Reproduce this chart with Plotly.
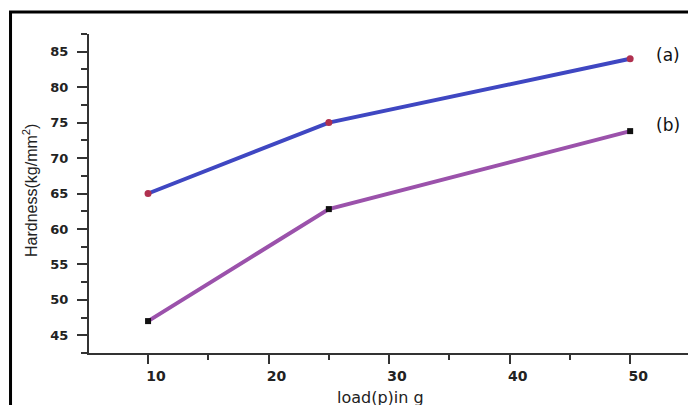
import plotly.graph_objects as go

load = [10, 25, 50]
hardness_a = [65.0, 75.0, 84.0]
hardness_b = [47.0, 62.8, 73.8]
series_labels = ["(a)", "(b)"]
x_ticks = [10, 20, 30, 40, 50]
y_ticks = [45, 50, 55, 60, 65, 70, 75, 80, 85]

fig = go.Figure()
fig.add_trace(go.Scatter(x=load, y=hardness_a, mode="lines+markers",
                         line=dict(color="#3f47c2", width=4),
                         marker=dict(color="#b0304f", size=7, symbol="circle"),
                         showlegend=False))
fig.add_trace(go.Scatter(x=load, y=hardness_b, mode="lines+markers",
                         line=dict(color="#9b52ab", width=4),
                         marker=dict(color="#111111", size=6, symbol="square"),
                         showlegend=False))

for lab, yv, sh in zip(series_labels, [hardness_a[-1], hardness_b[-1]], [4, 6]):
    fig.add_annotation(x=0.9666, xref="paper", xanchor="center",
                       y=yv, yref="y", yshift=sh, text=lab, showarrow=False,
                       font=dict(family="DejaVu Sans", size=17, color="#111"))

tick_font = dict(family="DejaVu Sans", size=13, color="#222")
fig.update_xaxes(range=[5.1, 54.8], tickmode="array", tickvals=x_ticks,
                 ticktext=[f"<b>{v}</b>" for v in x_ticks],
                 ticks="outside", ticklen=9, tickwidth=2, tickcolor="#333",
                 minor=dict(tickvals=[15, 25, 35, 45, 55], ticks="outside", ticklen=5,
                            tickwidth=2, tickcolor="#333"),
                 showline=True, linecolor="#333", linewidth=2, showgrid=False, zeroline=False,
                 tickfont=dict(family="DejaVu Sans", size=14, color="#222"),
                 ticklabelshift=8, automargin=False)
fig.update_yaxes(range=[42.5, 87.5], tickmode="array", tickvals=y_ticks,
                 ticktext=[f"<b>{v}</b>" for v in y_ticks],
                 ticks="outside", ticklen=10, tickwidth=2, tickcolor="#333",
                 minor=dict(tickvals=[42.5, 47.5, 52.5, 57.5, 62.5, 67.5, 72.5, 77.5, 82.5, 87.5],
                            ticks="outside", ticklen=6, tickwidth=2, tickcolor="#333"),
                 showline=True, linecolor="#333", linewidth=2, showgrid=False, zeroline=False,
                 tickfont=tick_font, ticklabelstandoff=6, automargin=False)

# axis titles
fig.add_annotation(x=(380 - 89) / 599, xref="paper", y=(353 - 397) / 319, yref="paper",
                   text="load(p)in g", showarrow=False, xanchor="center", yanchor="middle",
                   font=dict(family="DejaVu Sans", size=16, color="#222"))
fig.add_annotation(x=(30 - 89) / 599, xref="paper", y=(353 - 191) / 319, yref="paper",
                   text="Hardness(kg/mm<sup>2</sup>)", showarrow=False, textangle=-90,
                   xanchor="center", yanchor="middle",
                   font=dict(family="Liberation Sans, Arial", size=16, color="#222"))

# outer frame
fig.add_shape(type="rect", xref="paper", yref="paper", x0=-0.131, x1=1.05, y0=-0.2, y1=1.069,
              line=dict(color="#000", width=3), fillcolor="rgba(0,0,0,0)", layer="below")

fig.update_layout(width=688, height=405, margin=dict(l=89, r=0, t=34, b=52),
                  plot_bgcolor="white", paper_bgcolor="white")
fig.write_html("out.html")
